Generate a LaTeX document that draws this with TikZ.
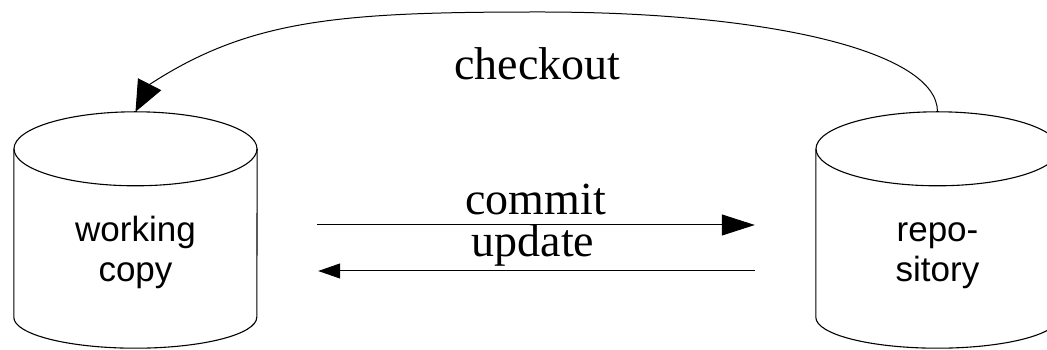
\documentclass[tikz,border=0pt]{standalone}
\usepackage{fontspec}
\setmainfont{Liberation Serif}
\newfontfamily\sansf{Liberation Sans}
\usetikzlibrary{arrows.meta,calc}
\tikzset{
  cylbox/.style={minimum width=243pt, minimum height=236pt, inner sep=0pt, draw=none},
  cylline/.style={line width=1.1pt, black},
  cyltext/.style={font=\sansf\fontsize{35}{40}\selectfont, inner sep=0pt, anchor=base},
  edgetext/.style={font=\fontsize{46}{52}\selectfont, inner sep=0pt, anchor=base},
  conn/.style={line width=1pt, black},
}
\newcommand\drawcylinder[1]{%
  \draw[cylline] ([yshift=-37pt]#1.north) ellipse[x radius=121.5pt, y radius=37pt];
  \draw[cylline] ([yshift=-37pt]#1.north west) -- ([yshift=31pt]#1.south west)
    arc[start angle=180, end angle=360, x radius=121.5pt, y radius=31pt]
    -- ([yshift=-37pt]#1.north east);}
\begin{document}
\begin{tikzpicture}[x=1pt,y=1pt]
\useasboundingbox (0,0) rectangle (1047,350);
\clip (0,0) rectangle (1047,350);
% cylinders
\node[cylbox] (wc) at (135.5,120) {};
\node[cylbox] (repo) at (937.5,120) {};
\drawcylinder{wc}
\drawcylinder{repo}
\node[cyltext] (wc1) at (135.5,108) {working};
\node[cyltext] (wc2) at (135.5,68) {copy};
\node[cyltext] (repo1) at (937.5,108) {repo-};
\node[cyltext] (repo2) at (937.5,68) {sitory};
% commit / update
\draw[conn, -{Triangle[length=33pt,width=21pt]}, shorten <=60pt, shorten >=61pt]
  ([yshift=5pt]wc.east) -- ([yshift=5pt]repo.west);
\draw[conn, -{Triangle[length=22pt,width=15pt]}, shorten <=61pt, shorten >=61pt]
  ([yshift=-41pt]repo.west) -- ([yshift=-41pt]wc.east);
\node[edgetext] (commit) at (535.5,135) {commit};
\node[edgetext] (update) at (533,93) {update};
% checkout
\coordinate (top) at (540,338);
\coordinate (abase) at (149.5,265.5);
\draw[conn, -{Triangle[length=31pt,width=26pt]}]
  (repo.north) .. controls ($(repo.north)+(0,60)$) and (770,338) .. (top)
  .. controls (340,338) and (250,331) .. (abase) -- (wc.north);
\node[edgetext] (checkout) at (537.5,270) {checkout};
\end{tikzpicture}
\end{document}
